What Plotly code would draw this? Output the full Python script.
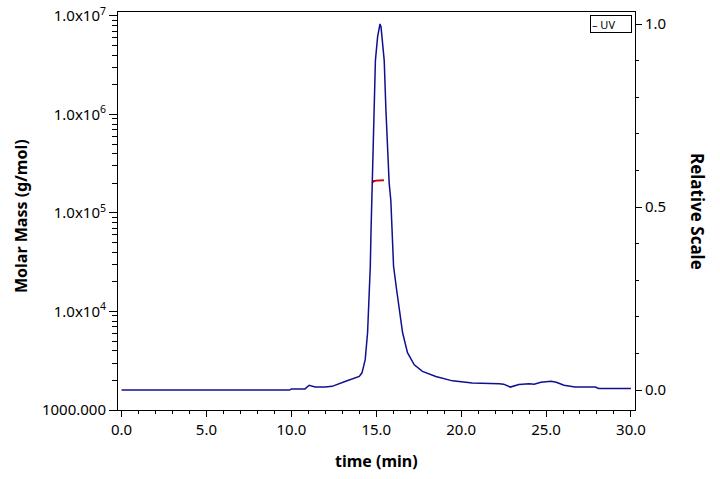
import plotly.graph_objects as go

# UV trace (relative scale)
uv_time = [0.0, 9.9, 10.0, 10.8, 11.05, 11.2, 11.4, 12.0, 12.4, 13.2, 14.0, 14.16, 14.35, 14.49,
           14.59, 14.65, 14.69, 14.74, 14.78, 14.82, 14.87, 14.95, 15.08, 15.15, 15.22, 15.28,
           15.37, 15.47, 15.57, 15.66, 15.76, 15.86, 15.92, 16.02, 16.20, 16.35, 16.55, 16.84,
           17.24, 17.72, 18.51, 19.49, 20.66, 22.24, 22.5, 22.9, 23.4, 24.0, 24.3, 24.7, 25.3,
           25.6, 26.06, 26.7, 27.9, 28.1, 30.0]
uv_rel = [0.0, 0.0, 0.003, 0.003, 0.013, 0.011, 0.008, 0.008, 0.010, 0.024, 0.037, 0.047, 0.083, 0.157,
          0.247, 0.338, 0.43, 0.517, 0.575, 0.675, 0.765, 0.90, 0.965, 0.99, 1.0, 0.993,
          0.948, 0.90, 0.765, 0.675, 0.566, 0.517, 0.43, 0.338, 0.274, 0.22, 0.157, 0.102,
          0.069, 0.051, 0.037, 0.025, 0.019, 0.017, 0.016, 0.008, 0.015, 0.017, 0.016, 0.021, 0.024,
          0.021, 0.013, 0.008, 0.008, 0.004, 0.004]

# Molar mass trace (g/mol)
mm_time = [14.78, 14.82, 15.0, 15.2, 15.45]
mm_mass = [2.02e5, 2.10e5, 2.13e5, 2.14e5, 2.15e5]

# Axis tick labels
y_tickvals = [1e3, 1e4, 1e5, 1e6, 1e7]
y_ticktext = ["1000.000", "1.0x10<sup>4</sup>", "1.0x10<sup>5</sup>", "1.0x10<sup>6</sup>", "1.0x10<sup>7</sup>"]
y_minor = [m * 10 ** e for e in range(3, 7) for m in range(2, 10)]
x_tickvals = [0, 5, 10, 15, 20, 25, 30]
x_ticktext = ["0.0", "5.0", "10.0", "15.0", "20.0", "25.0", "30.0"]
y2_tickvals = [0.0, 0.5, 1.0]
y2_ticktext = ["0.0", "0.5", "1.0"]

FONT = "Noto Sans"
BLUE = "#10108f"
PW, PH = 517, 398

fig = go.Figure()
fig.add_trace(go.Scatter(x=uv_time, y=uv_rel, mode="lines", name="UV", yaxis="y2",
                         line=dict(color=BLUE, width=1.5), showlegend=False))
fig.add_trace(go.Scatter(x=mm_time, y=mm_mass, mode="lines", name="Molar Mass",
                         line=dict(color="#cc0000", width=2), showlegend=False))

fig.update_layout(
    width=720, height=479,
    margin=dict(l=118, r=85, t=12, b=69),
    paper_bgcolor="white", plot_bgcolor="white",
    font=dict(family=FONT, color="black", size=14),
    xaxis=dict(range=[-0.21, 30.24], tickmode="array", tickvals=x_tickvals, ticktext=x_ticktext,
               showline=True, linecolor="black", linewidth=1, mirror=True, automargin=False,
               ticks="outside", ticklen=6, tickcolor="black", showgrid=False, zeroline=False,
               minor=dict(ticks="outside", ticklen=3, dtick=1, tickcolor="black", showgrid=False),
               tickfont=dict(size=15)),
    yaxis=dict(type="log", range=[3, 7.04], tickmode="array", tickvals=y_tickvals, ticktext=y_ticktext,
               showline=True, linecolor="black", linewidth=1, automargin=False,
               ticks="outside", ticklen=8, tickcolor="black", showgrid=False, zeroline=False,
               minor=dict(ticks="outside", ticklen=5, tickmode="array", tickvals=y_minor,
                          tickcolor="black", showgrid=False),
               tickfont=dict(size=15)),
    yaxis2=dict(overlaying="y", side="right", range=[-0.0546, 1.0328], automargin=False,
                tickmode="array", tickvals=y2_tickvals, ticktext=y2_ticktext,
                showline=True, linecolor="black", linewidth=1,
                ticks="outside", ticklen=6, tickcolor="black", showgrid=False, zeroline=False,
                minor=dict(ticks="outside", ticklen=3, dtick=0.1, tick0=0, tickcolor="black", showgrid=False),
                tickfont=dict(size=15)),
    annotations=[
        dict(text="<b>time (min)</b>", xref="paper", yref="paper", x=(376 - 118) / PW,
             y=-(461 - 410) / PH, showarrow=False, font=dict(size=16),
             xanchor="center", yanchor="middle"),
        dict(text="<b>Molar Mass (g/mol)</b>", xref="paper", yref="paper", x=(21 - 118) / PW,
             y=(410 - 216) / PH, textangle=-90, showarrow=False, font=dict(size=16),
             xanchor="center", yanchor="middle"),
        dict(text="<b>Relative Scale</b>", xref="paper", yref="paper", x=(698 - 118) / PW,
             y=(410 - 211) / PH, textangle=90, showarrow=False, font=dict(size=17),
             xanchor="center", yanchor="middle"),
        dict(text="<span style='color:" + BLUE + "'>–</span> UV&nbsp;", xref="paper", yref="paper",
             x=(632 - 118) / PW, y=(410 - 15) / PH, xanchor="right", yanchor="top", showarrow=False,
             width=38, height=14, align="left",
             font=dict(size=11), bordercolor="black", borderwidth=1, borderpad=1, bgcolor="white"),
    ],
)

fig.write_html("out.html")
